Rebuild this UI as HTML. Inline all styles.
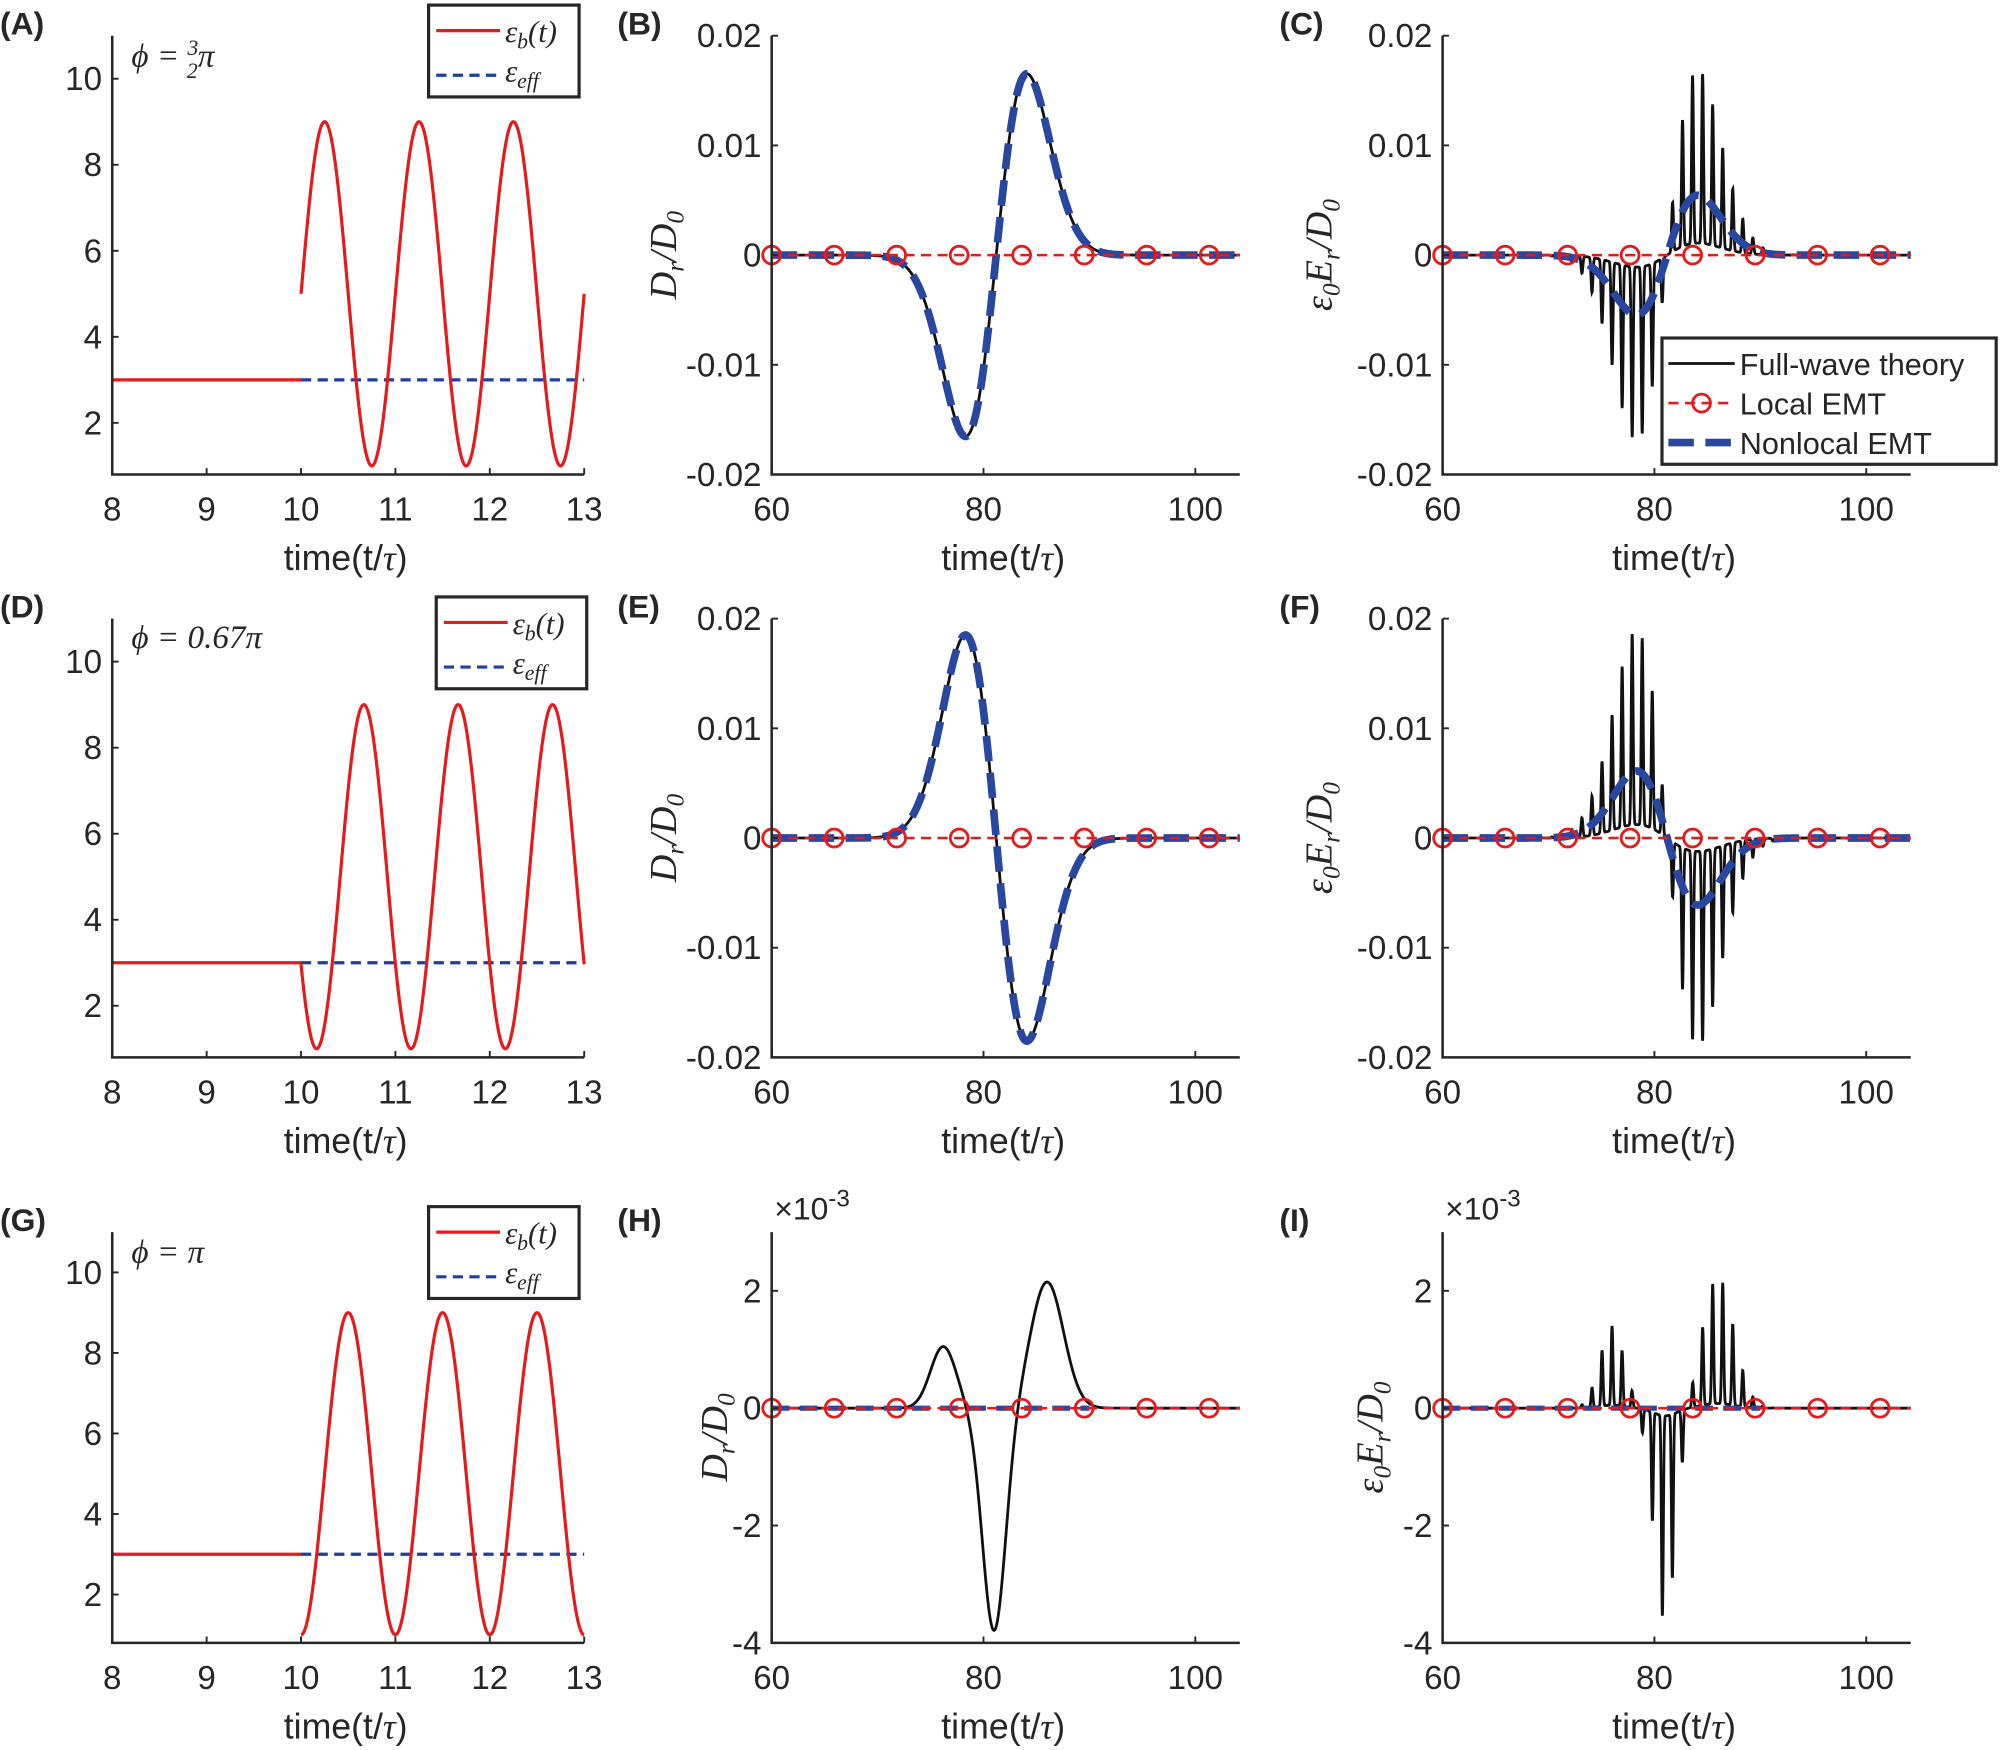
<!DOCTYPE html>
<html><head><meta charset="utf-8"><style>
html,body{margin:0;padding:0;background:#fff;}
svg{display:block;}
text{font-family:"Liberation Sans",sans-serif;fill:#262626;}
.s{font-family:"Liberation Serif",serif;font-style:italic;}
</style></head><body><div id="host"></div>
<script>
(function(){
var h='';
var cols=[{x0:88,x1:458,a:8,b:13},{x0:605,x1:972,a:60,b:104.2},{x0:1131,x1:1498,a:60,b:104.2}];
var rows=[{y0:28,y1:372},{y0:485,y1:829},{y0:966,y1:1288}];
function G(t,m,s){var z=(t-m)/s;return Math.exp(-z*z);}
function spk(t){return Math.pow((1+Math.cos(2*Math.PI*t/0.95))/2,6);}
function mkpath(f,ta,tb,n,X,Y){var d='';for(var i=0;i<=n;i++){var t=ta+(tb-ta)*i/n;var v=f(t);d+=(i?'L':'M')+X(t).toFixed(2)+' '+Y(v).toFixed(2);}return d;}
var letters=[['(A)','(B)','(C)'],['(D)','(E)','(F)'],['(G)','(H)','(I)']];
var phis=[3*Math.PI/2,0.67*Math.PI,Math.PI];
function panel(r,c){
 var C=cols[c],R=rows[r];
 var ya,yb;
 if(c==0){ya=0.8;yb=11;}else if(r<2){ya=-0.02;yb=0.02;}else{ya=-4;yb=3;}
 function X(t){return C.x0+(t-C.a)/(C.b-C.a)*(C.x1-C.x0);}
 function Y(v){return R.y1-(v-ya)/(yb-ya)*(R.y1-R.y0);}
 var k;
 if(c==0){
  var p=phis[r];
  h+='<path d="M'+X(8)+' '+Y(3)+'L'+X(10)+' '+Y(3)+'" stroke="#e41a1c" stroke-width="2.5" fill="none"/>';
  h+='<path d="M'+X(10)+' '+Y(3)+'L'+X(13)+' '+Y(3)+'" stroke="#1f3f9e" stroke-width="2.5" stroke-dasharray="8,5" fill="none"/>';
  h+='<path d="'+mkpath(function(t){return 5+4*Math.cos(2*Math.PI*(t-10)+p);},10,13,400,X,Y)+'" stroke="#e41a1c" stroke-width="2.5" fill="none"/>';
 } else {
  var blk,blu;
  var sg=(r==0)?1:-1.12;
  if(r<2){
   var env=function(t){var z=(t-81.2)/4.1;return sg*0.0094*(t-81.2)*Math.exp(-z*z);};
   if(c==1){blk=env;blu=env;}
   else{blu=function(t){return env(t)*0.33;};blk=function(t){return env(t)*0.33*(0.2+2.9*spk(t));};}
  } else {
   if(c==1){blk=function(t){return 1.05*G(t,76.2,1.7)-3.8*G(t,81,1.55)+2.15*G(t,86,2.2);};}
   else{blk=function(t){return (0.5*G(t,76,1.6)-1.3*G(t,81,1.5)+0.8*G(t,86,2.1))*(0.1+2.7*spk(t));};}
  }
  h+='<path d="'+mkpath(blk,60,104.2,2000,X,Y)+'" stroke="#111" stroke-width="2.2" fill="none"/>';
  if(r<2) h+='<path d="'+mkpath(blu,60,104.2,600,X,Y)+'" stroke="#2747a0" stroke-width="6" stroke-dasharray="20,9" fill="none"/>';
  else h+='<path d="M'+X(60)+' '+Y(0)+'L'+X(90)+' '+Y(0)+'" stroke="#2747a0" stroke-width="4" stroke-dasharray="14,8" fill="none"/>';
  h+='<path d="M'+X(60)+' '+Y(0)+'L'+C.x1+' '+Y(0)+'" stroke="#e41a1c" stroke-width="2" stroke-dasharray="8,5" fill="none"/>';
  for(k=0;k<8;k++){var px=X(60)+k*49;h+='<circle cx="'+px+'" cy="'+Y(0)+'" r="7" stroke="#e41a1c" stroke-width="2.2" fill="none"/>';}
 }
 h+='<path d="M'+C.x0+' '+R.y0+'L'+C.x0+' '+R.y1+'L'+C.x1+' '+R.y1+'" stroke="#262626" stroke-width="2" fill="none"/>';
 var xt=c==0?[8,9,10,11,12,13]:[60,80,100];
 for(k=0;k<xt.length;k++){var t=xt[k];h+='<line x1="'+X(t)+'" y1="'+R.y1+'" x2="'+X(t)+'" y2="'+(R.y1-5)+'" stroke="#262626" stroke-width="1.5"/><text x="'+X(t)+'" y="'+(R.y1+36)+'" font-size="26" text-anchor="middle">'+t+'</text>';}
 var yt;
 if(c==0)yt=[[2,'2'],[4,'4'],[6,'6'],[8,'8'],[10,'10']];
 else if(r<2)yt=[[-0.02,'-0.02'],[-0.01,'-0.01'],[0,'0'],[0.01,'0.01'],[0.02,'0.02']];
 else yt=[[-4,'-4'],[-2,'-2'],[0,'0'],[2,'2']];
 for(k=0;k<yt.length;k++){var v=yt[k][0],s=yt[k][1];h+='<line x1="'+C.x0+'" y1="'+Y(v)+'" x2="'+(C.x0+5)+'" y2="'+Y(v)+'" stroke="#262626" stroke-width="1.5"/><text x="'+(C.x0-8)+'" y="'+(Y(v)+9)+'" font-size="26" text-anchor="end">'+s+'</text>';}
 h+='<text x="'+((C.x0+C.x1)/2-2)+'" y="'+(R.y1+75)+'" font-size="28" text-anchor="middle">time(t/<tspan class="s">τ</tspan>)</text>';
 var lx=[0,484,1003][c];
 h+='<text x="'+lx+'" y="'+(R.y0-1)+'" font-size="25" font-weight="bold" fill="#000">'+letters[r][c]+'</text>';
 if(c>0){
  var yl=(r<2)?C.x0-85:C.x0-45;
  var lab=c==1?'D<tspan font-size="20" dy="6">r</tspan><tspan dy="-6">/D</tspan><tspan font-size="20" dy="6">0</tspan>':'ε<tspan font-size="20" dy="6">0</tspan><tspan dy="-6">E</tspan><tspan font-size="20" dy="6">r</tspan><tspan dy="-6">/D</tspan><tspan font-size="20" dy="6">0</tspan>';
  h+='<text class="s" transform="translate('+(yl+(c==2?-2:10))+','+((R.y0+R.y1)/2)+') rotate(-90)" font-size="30" text-anchor="middle">'+lab+'</text>';
  if(r==2)h+='<text x="'+(C.x0+2)+'" y="'+(R.y0-10)+'" font-size="25">×10<tspan font-size="19" dy="-10">-3</tspan></text>';
 }
}
for(var r=0;r<3;r++)for(var c=0;c<3;c++){try{panel(r,c);}catch(e){}}
h+='<text class="s" x="103" y="52" font-size="26">ϕ = <tspan font-size="17" dy="-9">3</tspan><tspan font-size="17" dx="-9" dy="18">2</tspan><tspan dy="-9">π</tspan></text>';
h+='<text class="s" x="103" y="508" font-size="26">ϕ = 0.67π</text>';
h+='<text class="s" x="103" y="990" font-size="26">ϕ = π</text>';
var L=[[336,4],[342,468],[336,946]];
for(var i=0;i<3;i++){var x=L[i][0],y=L[i][1];
 h+='<rect x="'+x+'" y="'+y+'" width="118" height="72" fill="#fff" stroke="#262626" stroke-width="2.5"/>';
 h+='<line x1="'+(x+6)+'" y1="'+(y+20)+'" x2="'+(x+56)+'" y2="'+(y+20)+'" stroke="#e41a1c" stroke-width="2.5"/>';
 h+='<line x1="'+(x+6)+'" y1="'+(y+55)+'" x2="'+(x+56)+'" y2="'+(y+55)+'" stroke="#1f3f9e" stroke-width="2.5" stroke-dasharray="8,5"/>';
 h+='<text class="s" x="'+(x+60)+'" y="'+(y+29)+'" font-size="24">ε<tspan font-size="17" dy="5">b</tspan><tspan dy="-5">(t)</tspan></text>';
 h+='<text class="s" x="'+(x+60)+'" y="'+(y+60)+'" font-size="24">ε<tspan font-size="17" dy="5">eff</tspan></text>';
}
h+='<rect x="1303" y="265" width="262" height="99" fill="#fff" stroke="#262626" stroke-width="2.5"/>';
h+='<line x1="1308" y1="285" x2="1360" y2="285" stroke="#111" stroke-width="2.2"/><text x="1364" y="294" font-size="24">Full-wave theory</text>';
h+='<line x1="1308" y1="316" x2="1360" y2="316" stroke="#e41a1c" stroke-width="2" stroke-dasharray="8,5"/><circle cx="1334" cy="316" r="7" stroke="#e41a1c" stroke-width="2.2" fill="none"/><text x="1364" y="325" font-size="24">Local EMT</text>';
h+='<line x1="1308" y1="347" x2="1360" y2="347" stroke="#2747a0" stroke-width="6" stroke-dasharray="20,9"/><text x="1364" y="356" font-size="24">Nonlocal EMT</text>';
document.getElementById('host').innerHTML='<svg width="2000" height="1750" viewBox="0 0 1568 1372" xmlns="http://www.w3.org/2000/svg">'+h+'</svg>';
})();
</script>
</body></html>
